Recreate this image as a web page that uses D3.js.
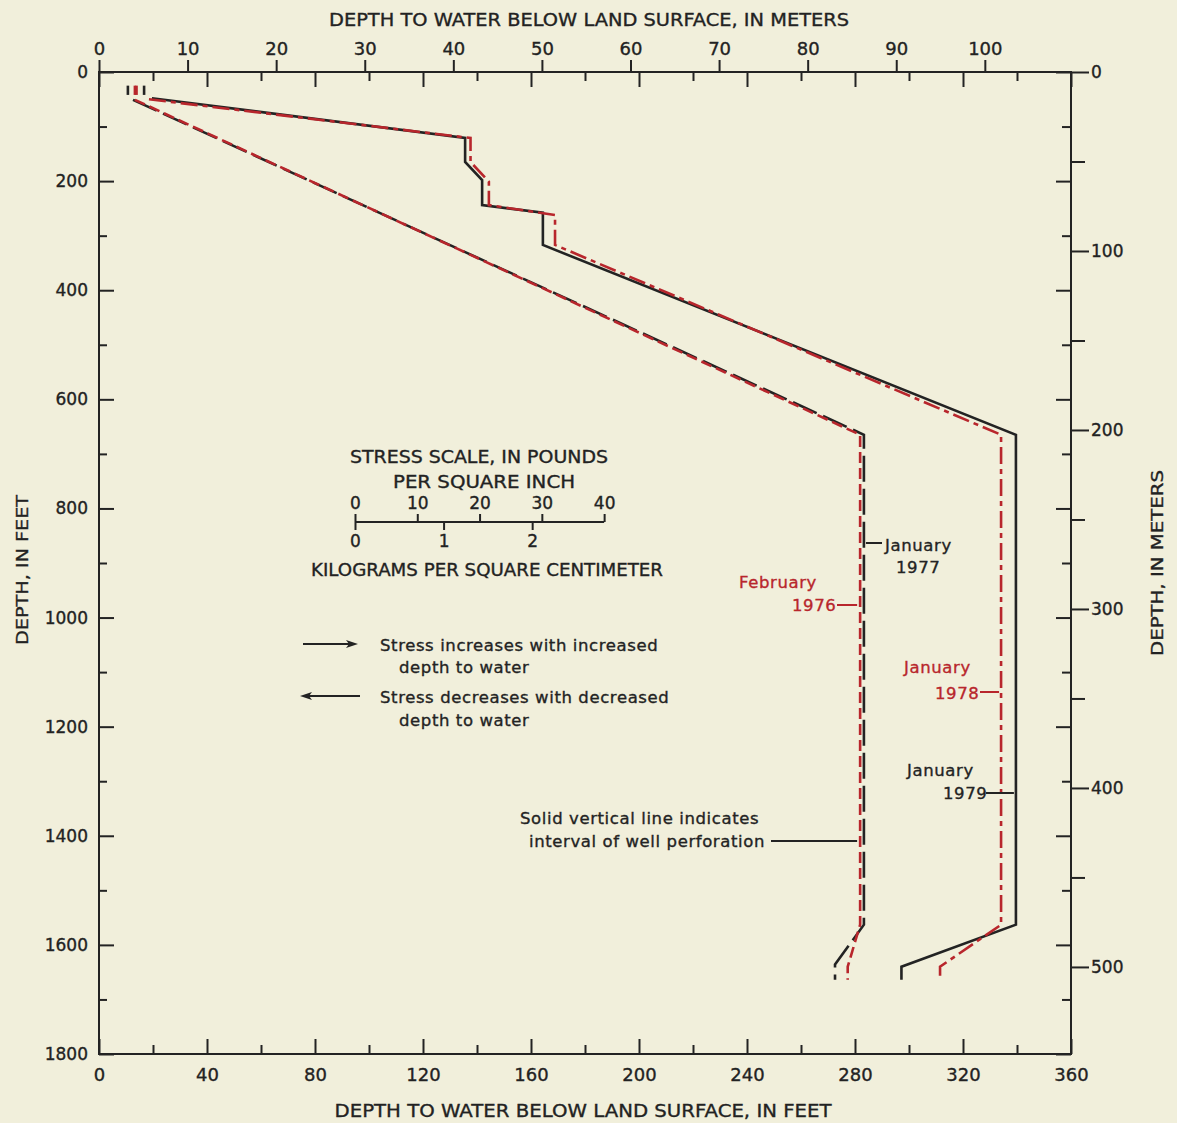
<!DOCTYPE html>
<html>
<head>
<meta charset="utf-8">
<script src="https://cdn.jsdelivr.net/npm/d3@7"></script>
<style>
  html, body { margin: 0; padding: 0; background: #f1efdb; }
  svg { display: block; }
  text { font-family: "DejaVu Sans", "Liberation Sans", sans-serif; fill: #222; stroke-width: 0.35px; paint-order: stroke; }
</style>
</head>
<body>
<script>
// ---------------- DATA ----------------
const FT_PER_M = 3.28084;
const FT_WATER_PER_PSI = 2.3067;
const PSI_PER_KGCM2 = 14.2233;

// tick labels
const feetLabelTicks = [0, 40, 80, 120, 160, 200, 240, 280, 320, 360];
const feetMinorTicks = [20, 60, 100, 140, 180, 220, 260, 300, 340];
const meterLabelTicks = [0, 10, 20, 30, 40, 50, 60, 70, 80, 90, 100];
const depthFeetLabelTicks = [0, 200, 400, 600, 800, 1000, 1200, 1400, 1600, 1800];
const depthFeetMinorTicks = [100, 300, 500, 700, 900, 1100, 1300, 1500, 1700];
const depthMeterLabelTicks = [0, 100, 200, 300, 400, 500];
const depthMeterMinorTicks = [50, 150, 250, 350, 450];
const psiTicks = [0, 10, 20, 30, 40];
const kgTicks = [0, 1, 2];

// profiles: [depth to water (ft), depth (ft)]
const feb1976Top = [[13.3, 25], [13.3, 42]];
const feb1976 = [[13.3, 51], [281.9, 665], [281.9, 1563], [277.3, 1640], [277.3, 1664]];

const jan1977Top = [[10.7, 25], [10.7, 42]];
const jan1977 = [[12.6, 51], [283.3, 665], [283.3, 1563], [272.6, 1636], [272.6, 1664]];

const jan1978Top = [[13.9, 25], [13.9, 42]];
const jan1978 = [[18.5, 50], [137.6, 121], [137.6, 165], [144.4, 201], [144.4, 244],
                 [168.9, 262], [168.9, 317], [334.1, 665], [334.1, 1563], [311.5, 1640], [311.5, 1664]];

const jan1979Top = [[16.7, 25], [16.7, 42]];
const jan1979 = [[19.6, 48], [135.6, 121], [135.6, 165], [141.9, 198], [141.9, 244],
                 [164.4, 258], [164.4, 317], [339.6, 665], [339.6, 1563], [297.2, 1640], [297.2, 1664]];

// ---------------- LAYOUT ----------------
const W = 1177, H = 1123;
const L = 99, R = 1071, T = 72, B = 1054;
const RED = "#b8262c", INK = "#232323";

const svg = d3.select("body").append("svg").attr("width", W).attr("height", H);
svg.append("rect").attr("width", W).attr("height", H).attr("fill", "#f1efdb");

const x = d3.scaleLinear([0, 360], [L, R]);
const xm = d3.scaleLinear([0, 360 / FT_PER_M], [L, R]);
const y = d3.scaleLinear([0, 1800], [T, B]);
const ym = d3.scaleLinear([0, 1800 / FT_PER_M], [T, B]);

function styleAxis(g, size) {
  g.select(".domain").remove();
  g.selectAll(".tick line").attr("stroke", INK).attr("stroke-width", 2);
  g.selectAll(".tick text").attr("font-size", size).attr("fill", INK).attr("stroke", INK);
}

// top: meters (outward) and feet (inward)
svg.append("g").attr("transform", `translate(0,${T})`)
  .call(d3.axisTop(xm).tickValues(meterLabelTicks).tickSize(12).tickPadding(5).tickFormat(d3.format("d")))
  .call(g => styleAxis(g, 18));
svg.append("g").attr("transform", `translate(0,${T})`)
  .call(d3.axisTop(x).tickValues(feetLabelTicks).tickSize(-15).tickFormat(""))
  .call(g => styleAxis(g, 1));
svg.append("g").attr("transform", `translate(0,${T})`)
  .call(d3.axisTop(x).tickValues(feetMinorTicks).tickSize(-9).tickFormat(""))
  .call(g => styleAxis(g, 1));

// bottom: feet (inward)
svg.append("g").attr("transform", `translate(0,${B})`)
  .call(d3.axisBottom(x).tickValues(feetLabelTicks).tickSize(-15).tickPadding(14).tickFormat(d3.format("d")))
  .call(g => styleAxis(g, 18));
svg.append("g").attr("transform", `translate(0,${B})`)
  .call(d3.axisBottom(x).tickValues(feetMinorTicks).tickSize(-9).tickFormat(""))
  .call(g => styleAxis(g, 1));

// left: depth feet (inward)
svg.append("g").attr("transform", `translate(${L},0)`)
  .call(d3.axisLeft(y).tickValues(depthFeetLabelTicks).tickSize(-15).tickPadding(11).tickFormat(d3.format("d")))
  .call(g => styleAxis(g, 17));
svg.append("g").attr("transform", `translate(${L},0)`)
  .call(d3.axisLeft(y).tickValues(depthFeetMinorTicks).tickSize(-8).tickFormat(""))
  .call(g => styleAxis(g, 1));

// right: feet inward, meters outward
svg.append("g").attr("transform", `translate(${R},0)`)
  .call(d3.axisRight(y).tickValues(depthFeetLabelTicks).tickSize(-15).tickFormat(""))
  .call(g => styleAxis(g, 1));
svg.append("g").attr("transform", `translate(${R},0)`)
  .call(d3.axisRight(y).tickValues(depthFeetMinorTicks).tickSize(-9).tickFormat(""))
  .call(g => styleAxis(g, 1));
svg.append("g").attr("transform", `translate(${R},0)`)
  .call(d3.axisRight(ym).tickValues(depthMeterLabelTicks).tickSize(18).tickPadding(2).tickFormat(d3.format("d")))
  .call(g => styleAxis(g, 17));
svg.append("g").attr("transform", `translate(${R},0)`)
  .call(d3.axisRight(ym).tickValues(depthMeterMinorTicks).tickSize(14).tickFormat(""))
  .call(g => styleAxis(g, 1));

// frame
svg.append("rect").attr("x", L).attr("y", T).attr("width", R - L).attr("height", B - T)
  .attr("fill", "none").attr("stroke", INK).attr("stroke-width", 2);

// axis titles
function title(tx, ty, str, len, rot) {
  svg.append("text").attr("transform", `translate(${tx},${ty})` + (rot ? " rotate(-90)" : ""))
    .attr("text-anchor", "middle").attr("font-size", rot ? 16 : 18).attr("stroke", INK)
    .attr("textLength", len).attr("lengthAdjust", "spacingAndGlyphs").text(str);
}
title(589, 26, "DEPTH TO WATER BELOW LAND SURFACE, IN METERS", 520);
title(583, 1117, "DEPTH TO WATER BELOW LAND SURFACE, IN FEET", 497);
title(28, 570, "DEPTH, IN FEET", 150, true);
title(1163, 563, "DEPTH, IN METERS", 186, true);

// ---------------- PROFILES ----------------
const line = d3.line().x(d => x(d[0])).y(d => y(d[1]));
function profile(top, pts, color, dash) {
  [top, pts].forEach(p => {
    svg.append("path").attr("d", line(p)).attr("fill", "none")
      .attr("stroke", color).attr("stroke-width", 2.6)
      .attr("stroke-dasharray", p === top ? null : dash);
  });
}
profile(jan1977Top, jan1977, INK, "26,7");
profile(jan1979Top, jan1979, INK, null);
profile(feb1976Top, feb1976, RED, "11,5");
profile(jan1978Top, jan1978, RED, "17,5,5,5");

// ---------------- ANNOTATIONS ----------------
function label(tx, ty, str, color) {
  svg.append("text").attr("x", tx).attr("y", ty).attr("font-size", 16.5)
    .style("fill", color).attr("stroke", color)
    .attr("letter-spacing", 0.6).text(str);
}
function leader(x1, x2, yy, color) {
  svg.append("line").attr("x1", x1).attr("x2", x2).attr("y1", yy).attr("y2", yy)
    .attr("stroke", color).attr("stroke-width", 2);
}
// January 1977
leader(x(283.3) + 2, 882, 543, INK);
label(885, 551, "January", INK);
label(896, 573, "1977", INK);
// February 1976
label(739, 588, "February", RED);
label(792, 611, "1976", RED);
leader(837, x(281.9) - 3, 605, RED);
// January 1978
label(904, 673, "January", RED);
label(935, 699, "1978", RED);
leader(980, x(334.1) - 2, 692, RED);
// January 1979
label(907, 776, "January", INK);
label(943, 799, "1979", INK);
leader(986, x(339.6) - 2, 793, INK);
// well perforation note
label(520, 824, "Solid vertical line indicates", INK);
label(529, 847, "interval of well perforation", INK);
leader(771, x(281.9) - 3, 841, INK);

// legend arrows
function arrow(x1, x2, yy) {
  const dir = Math.sign(x2 - x1);
  svg.append("line").attr("x1", x1).attr("x2", x2 - dir * 8).attr("y1", yy).attr("y2", yy)
    .attr("stroke", INK).attr("stroke-width", 2);
  svg.append("path").attr("d", `M${x2},${yy} L${x2 - dir * 12},${yy - 4} L${x2 - dir * 9},${yy} L${x2 - dir * 12},${yy + 4} Z`)
    .attr("fill", INK);
}
arrow(303, 358, 644);
label(380, 651, "Stress increases with increased", INK);
label(399, 673, "depth to water", INK);
arrow(360, 300, 696);
label(380, 703, "Stress decreases with decreased", INK);
label(399, 726, "depth to water", INK);

// ---------------- STRESS SCALE INSET ----------------
const sx0 = 355, sy = 522;
const pxPerFt = x(1) - x(0);
const psiScale = d3.scaleLinear([0, 40], [sx0, sx0 + 40 * FT_WATER_PER_PSI * pxPerFt]);
const kgScale = d3.scaleLinear([0, 1], [sx0, sx0 + PSI_PER_KGCM2 * FT_WATER_PER_PSI * pxPerFt]);

function insetText(tx, ty, str, len) {
  svg.append("text").attr("x", tx).attr("y", ty).attr("text-anchor", "middle").attr("font-size", 17)
    .attr("stroke", INK).attr("textLength", len).attr("lengthAdjust", "spacingAndGlyphs").text(str);
}
insetText(479, 463, "STRESS SCALE, IN POUNDS", 258);
insetText(484, 488, "PER SQUARE INCH", 182);

svg.append("g").attr("transform", `translate(0,${sy})`)
  .call(d3.axisTop(psiScale).tickValues(psiTicks).tickSize(8).tickPadding(5).tickFormat(d3.format("d")))
  .call(g => styleAxis(g, 17));
svg.append("g").attr("transform", `translate(0,${sy})`)
  .call(d3.axisBottom(kgScale).tickValues(kgTicks).tickSize(8).tickPadding(5).tickFormat(d3.format("d")))
  .call(g => styleAxis(g, 17));
svg.append("line").attr("x1", psiScale(0)).attr("x2", psiScale(40)).attr("y1", sy).attr("y2", sy)
  .attr("stroke", INK).attr("stroke-width", 2);
insetText(487, 576, "KILOGRAMS PER SQUARE CENTIMETER", 352);
</script>
</body>
</html>
